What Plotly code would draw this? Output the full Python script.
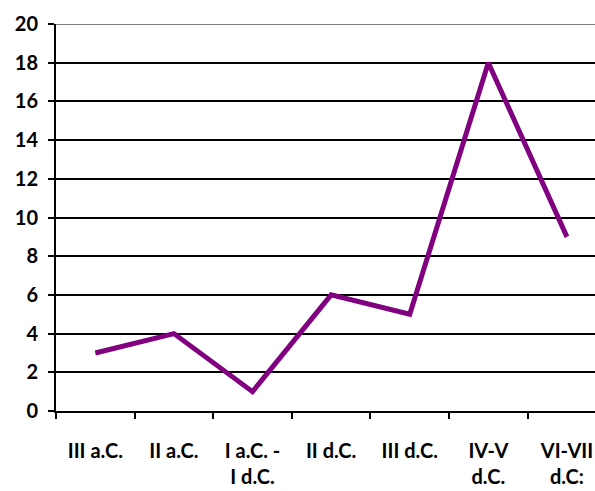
import plotly.graph_objects as go

categories = ["III a.C.", "II a.C.", "I a.C. -<br>I d.C.", "II d.C.", "III d.C.", "IV-V<br>d.C.", "VI-VII<br>d.C:"]
values = [3, 4, 1, 6, 5, 18, 9]
y_ticks = list(range(0, 21, 2))

fig = go.Figure()
fig.add_trace(go.Scatter(x=categories, y=values, mode="lines",
                         line=dict(color="#800080", width=5)))

fig.update_layout(
    width=595, height=491,
    margin=dict(l=56, r=0, t=24, b=80),
    paper_bgcolor="white", plot_bgcolor="white",
    showlegend=False,
    font=dict(family="Lato, Carlito, Calibri, sans-serif", size=17, color="black"),
)
fig.add_shape(type="line", xref="paper", yref="y", x0=0, x1=1, y0=max(y_ticks), y1=max(y_ticks),
              line=dict(color="#808080", width=2), layer="above")
fig.update_xaxes(
    type="category",
    range=[-0.5, 6.357], automargin=False,
    tickmode="array", tickvals=categories, ticktext=[f"<b>{c}</b>" for c in categories],
    showgrid=False, showline=True, linecolor="black", linewidth=2,
    ticks="outside", tickson="boundaries", ticklen=6, tickwidth=2, tickcolor="black",
    ticklabelstandoff=21,
    tickfont=dict(size=20),
    zeroline=False,
)
fig.update_yaxes(
    range=[0, 20], automargin=False,
    tickmode="array", tickvals=y_ticks, ticktext=[f"<b>{v}</b>" for v in y_ticks],
    showgrid=True, gridcolor="black", gridwidth=2,
    showline=True, linecolor="black", linewidth=2,
    ticks="outside", ticklen=6, tickwidth=2, tickcolor="black",
    ticklabelstandoff=6,
    tickfont=dict(size=20),
    zeroline=False,
)
fig.write_html("out.html", config={"displayModeBar": False},
               post_script="document.body.style.margin='0';document.body.style.overflow='hidden';")
